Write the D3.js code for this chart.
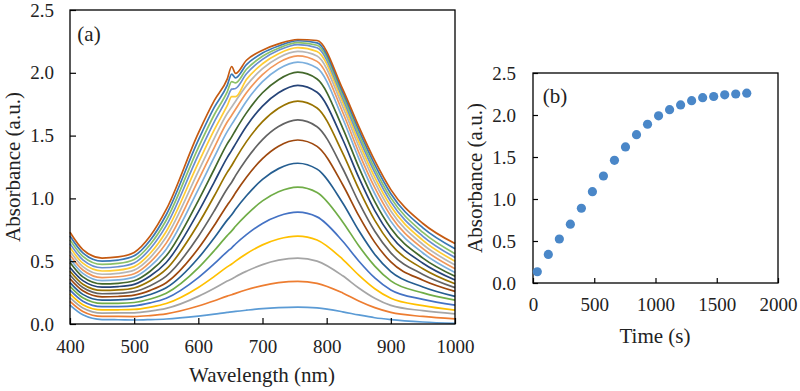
<!DOCTYPE html>
<html><head><meta charset="utf-8">
<script src="https://cdn.jsdelivr.net/npm/d3@7"></script>
<style>body{margin:0;background:#fff}svg{display:block}
svg text{font-family:"Liberation Serif","Times New Roman",Times,"Nimbus Roman","Nimbus Roman No9 L",FreeSerif,"Noto Serif","DejaVu Serif","Noto Serif CJK SC",serif !important;}
</style>
</head><body><svg id="c" width="800" height="391"></svg>
<script>
// Panel (a): absorption spectra
const wavelengths = [400,420,450,475,500,525,550,600,625,645,652,658,675,700,725,755,785,825,850,875,900,950,1000];
const spectra = [
 [.15,.073,.035,.034,.032,.035,.040,.063,.078,.092,.096,.100,.110,.123,.131,.135,.128,.097,.072,.050,.035,.016,.005],
 [.18,.10,.06,.06,.059,.067,.081,.143,.185,.222,.233,.244,.273,.306,.329,.34,.324,.247,.183,.130,.092,.06,.04],
 [.21,.128,.087,.088,.089,.102,.124,.220,.285,.342,.359,.377,.420,.473,.508,.525,.501,.384,.287,.205,.148,.106,.08],
 [.24,.154,.112,.113,.116,.134,.163,.291,.379,.455,.478,.501,.56,.63,.677,.70,.669,.515,.389,.281,.205,.146,.11],
 [.27,.182,.138,.139,.145,.168,.205,.369,.48,.577,.607,.637,.711,.801,.86,.89,.853,.659,.502,.367,.271,.196,.15],
 [.30,.209,.164,.165,.171,.199,.245,.447,.585,.704,.741,.778,.869,.98,1.053,1.09,1.047,.813,.623,.461,.343,.248,.19],
 [.33,.236,.19,.192,.202,.235,.288,.525,.687,.827,.87,.913,1.021,1.151,1.237,1.28,1.233,.963,.744,.554,.417,.295,.22],
 [.36,.264,.216,.219,.23,.268,.329,.601,.786,.946,.996,1.045,1.169,1.317,1.416,1.465,1.414,1.109,.863,.65,.494,.349,.26],
 [.39,.29,.241,.244,.258,.305,.381,.697,.902,1.077,1.129,1.181,1.312,1.468,1.572,1.625,1.571,1.238,.97,.738,.566,.395,.29],
 [.42,.317,.267,.271,.287,.344,.436,.797,1.021,1.207,1.262,1.315,1.452,1.611,1.718,1.775,1.72,1.361,1.076,.825,.637,.44,.32],
 [.45,.345,.293,.298,.316,.382,.49,.893,1.132,1.325,1.382,1.434,1.574,1.735,1.841,1.90,1.845,1.469,1.167,.903,.703,.484,.35],
 [.49,.375,.319,.324,.344,.42,.543,.983,1.234,1.434,1.49,1.543,1.681,1.841,1.945,2.005,1.951,1.56,1.249,.974,.762,.525,.38],
 [.52,.403,.345,.351,.373,.458,.596,1.072,1.331,1.532,1.589,1.638,1.774,1.929,2.03,2.085,2.038,1.636,1.319,1.037,.817,.565,.41],
 [.55,.43,.37,.376,.40,.493,.644,1.145,1.407,1.608,1.662,1.71,1.841,1.985,2.081,2.135,2.091,1.686,1.367,1.085,.86,.60,.44],
 [.58,.457,.396,.403,.429,.529,.692,1.215,1.48,1.676,1.728,1.774,1.898,2.033,2.12,2.17,2.134,1.731,1.413,1.129,.90,.633,.47],
 [.61,.484,.422,.429,.457,.563,.737,1.283,1.547,1.738,1.81,1.81,1.947,2.072,2.152,2.20,2.17,1.766,1.45,1.167,.937,.666,.50],
 [.64,.511,.448,.456,.486,.599,.783,1.347,1.612,1.798,1.87,1.875,1.992,2.107,2.179,2.225,2.199,1.797,1.486,1.205,.972,.698,.53],
 [.67,.539,.474,.482,.514,.633,.826,1.405,1.668,1.849,1.93,1.92,2.028,2.132,2.196,2.24,2.219,1.82,1.514,1.235,1.004,.729,.56],
 [.70,.566,.50,.509,.543,.667,.87,1.464,1.726,1.90,1.99,1.96,2.065,2.157,2.213,2.255,2.238,1.846,1.545,1.268,1.037,.766,.60],
 [.73,.593,.525,.534,.57,.70,.912,1.52,1.78,1.95,2.05,1.995,2.10,2.18,2.23,2.265,2.257,1.87,1.573,1.30,1.07,.80,.64]
];
const seriesColors = ["#5B9BD5","#ED7D31","#A5A5A5","#FFC000","#4472C4","#70AD47","#255E91","#9E480E","#636363","#997300","#264478","#43682B","#7CAFDD","#F1975A","#B7B7B7","#FFCD33","#698ED0","#8CC168","#3A78B5","#C55A11"];
const xTicksA = [400,500,600,700,800,900,1000];
const yTicks = [0,0.5,1.0,1.5,2.0,2.5];

// Panel (b): absorbance vs time
const times = [35,125,215,305,395,485,575,665,755,845,935,1025,1115,1205,1295,1385,1475,1565,1655,1745];
const absorbance = [0.134,0.34,0.524,0.70,0.89,1.087,1.274,1.46,1.62,1.766,1.89,1.99,2.063,2.12,2.17,2.206,2.22,2.24,2.25,2.26];
const xTicksB = [0,500,1000,1500,2000];

const svg = d3.select("#c");
const fmt = d3.format(".1f");
const fmtInt = d3.format("d");

function frame(g, x0, y0, x1, y1){
  g.append("rect").attr("x",x0).attr("y",y0).attr("width",x1-x0).attr("height",y1-y0)
   .attr("fill","none").attr("stroke","#000").attr("stroke-width",1.3);
}
function styleAxis(sel){
  sel.attr("font-size",19);
  sel.select(".domain").remove();
  sel.selectAll(".tick line").attr("stroke","#000").attr("stroke-width",1.2);
  sel.selectAll(".tick text").attr("fill","#222").style("font-size","19px");
}
function label(g, txt, x, y, rot){
  const t = g.append("text").attr("text-anchor","middle")
    .style("font-size","21px").attr("fill","#222").text(txt);
  if (rot) t.attr("transform",`translate(${x},${y}) rotate(-90)`);
  else t.attr("x",x).attr("y",y);
  return t;
}

// ---- Panel (a)
const xa = d3.scaleLinear().domain([400,1000]).range([70,455]);
const ya = d3.scaleLinear().domain([0,2.5]).range([324,10]);
const ga = svg.append("g");
const line = d3.line().x((d,i)=>xa(wavelengths[i])).y(d=>ya(d)).curve(d3.curveMonotoneX);
ga.append("g").selectAll("path").data(spectra).join("path")
  .attr("d", d=>line(d)).attr("fill","none")
  .attr("stroke",(d,i)=>seriesColors[i]).attr("stroke-width",1.7);
ga.append("g").attr("transform","translate(0,324)")
  .call(d3.axisBottom(xa).tickValues(xTicksA).tickFormat(fmtInt).tickSize(-6).tickPadding(16))
  .call(styleAxis);
ga.append("g").attr("transform","translate(70,0)")
  .call(d3.axisLeft(ya).tickValues(yTicks).tickFormat(fmt).tickSize(-6).tickPadding(16))
  .call(styleAxis);
frame(ga,70,10,455,324);
label(ga,"(a)",89,41);
label(ga,"Wavelength (nm)",262,382);
label(ga,"Absorbance (a.u.)",20,167,true);

// ---- Panel (b)
const xb = d3.scaleLinear().domain([0,2000]).range([533,778]);
const yb = d3.scaleLinear().domain([0,2.5]).range([283,73]);
const gb = svg.append("g");
gb.append("g").attr("transform","translate(0,283)")
  .call(d3.axisBottom(xb).tickValues(xTicksB).tickFormat(fmtInt).tickSize(-5).tickPadding(15))
  .call(styleAxis);
gb.append("g").attr("transform","translate(533,0)")
  .call(d3.axisLeft(yb).tickValues(yTicks).tickFormat(fmt).tickSize(-5).tickPadding(17))
  .call(styleAxis);
frame(gb,533,73,778,283);
gb.append("g").selectAll("circle").data(times).join("circle")
  .attr("cx",d=>xb(d)).attr("cy",(d,i)=>yb(absorbance[i])).attr("r",4.6)
  .attr("fill","#4A87C8");
label(gb,"(b)",555,103);
label(gb,"Time (s)",655,343);
label(gb,"Absorbance (a.u.)",482,178,true);
</script></body></html>
